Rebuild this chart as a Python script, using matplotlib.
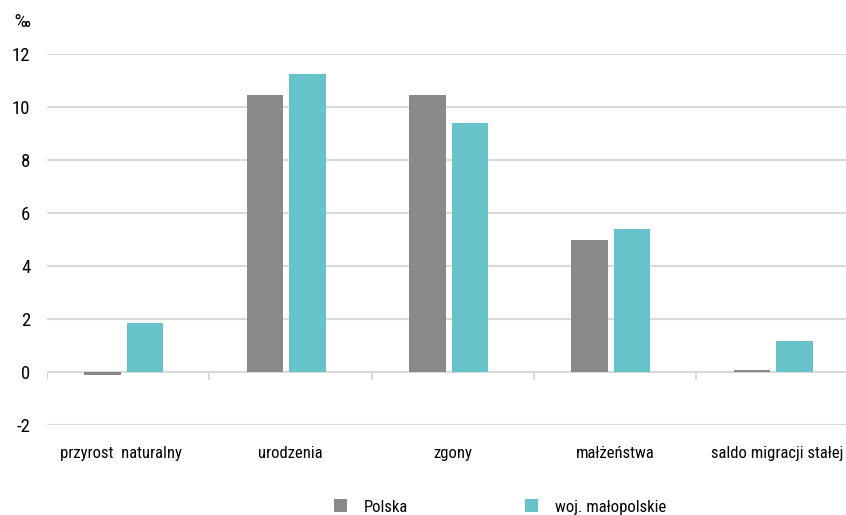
import matplotlib
matplotlib.use("Agg")
import matplotlib.pyplot as plt
import matplotlib.transforms as mtransforms
from matplotlib.patches import Patch
import numpy as np

plt.rcParams['font.family'] = ['Roboto Condensed', 'DejaVu Sans']
plt.rcParams['font.stretch'] = 'condensed'

# data (per mille)
categories = ["przyrost  naturalny", "urodzenia", "zgony", "małżeństwa", "saldo migracji stałej"]
polska = [-0.12, 10.45, 10.45, 5.0, 0.08]
malopolskie = [1.85, 11.25, 9.4, 5.4, 1.18]
series_names = ["Polska", "woj. małopolskie"]
yticks = [-2, 0, 2, 4, 6, 8, 10, 12]

col_pl = "#898989"
col_mp = "#66c3ca"
grid_col = "#d9d9d9"

fig = plt.figure(figsize=(8.46, 5.15), dpi=100)
# right edge goes slightly past the figure (the original is cropped)
ax = fig.add_axes([47 / 846, 1 - 425 / 515, 811.5 / 846, 371 / 515])

x = np.arange(len(categories))
xc = x - 0.026  # bar groups sit slightly left of the category centre
w = 0.225
ax.bar(xc - 0.131, polska, w, color=col_pl, zorder=3)
ax.bar(xc + 0.131, malopolskie, w, color=col_mp, zorder=3)

ax.set_xlim(-0.5, len(categories) - 0.5)
ax.set_ylim(-2, 12)
ax.set_yticks(yticks)
ax.set_yticklabels([str(t) for t in yticks], fontsize=13.5)
ax.tick_params(axis="y", length=0, pad=12)

ax.set_xticks(x)
ax.set_xticklabels(categories, fontsize=12)
ax.tick_params(axis="x", length=0, pad=15)
# first label is nudged a bit to the left in the original
lab0 = ax.get_xticklabels()[0]
lab0.set_transform(lab0.get_transform() + mtransforms.ScaledTranslation(-7 / 100, 0, fig.dpi_scale_trans))

for t in yticks:
    if t != 0:
        ax.axhline(t, color=grid_col, linewidth=1.5, zorder=1)
ax.axhline(0, color=grid_col, linewidth=1.5, zorder=2)
# category separator ticks on the zero line
ax.vlines(np.arange(len(categories) + 1) - 0.5, -0.3, 0, color=grid_col, linewidth=1.5, zorder=2)

for s in ax.spines.values():
    s.set_visible(False)

fig.text(22 / 846, 1 - 22 / 515, "‰", fontsize=14, ha="center", va="center")

handles = [Patch(facecolor=col_pl), Patch(facecolor=col_mp)]
fig.legend(handles, series_names, loc="center", bbox_to_anchor=(500 / 846, 1 - 507 / 515),
           ncol=2, frameon=False, fontsize=12, handlelength=0.8, handleheight=0.8,
           handletextpad=1.0, columnspacing=7.0, borderpad=0)

fig.savefig("out.png", dpi=100)
